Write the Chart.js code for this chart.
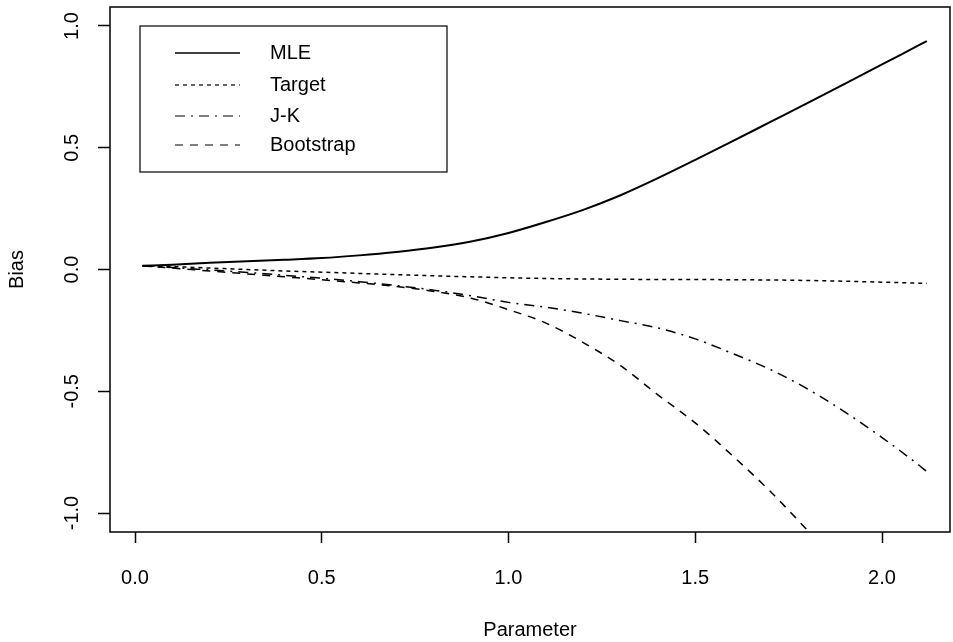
<!DOCTYPE html>
<html>
<head>
<meta charset="utf-8">
<script src="https://cdn.jsdelivr.net/npm/chart.js@4.4.1/dist/chart.umd.min.js"></script>
<style>
  html, body { margin: 0; padding: 0; background: #fff; }
  #wrap { width: 953px; height: 642px; position: relative; }
</style>
</head>
<body>
<div id="wrap"><canvas id="c"></canvas></div>
<script>
// ── Data ──────────────────────────────────────────────────
const params    = [0.02, 0.1, 0.2, 0.3, 0.4, 0.5, 0.6, 0.7, 0.8, 0.9, 1.0, 1.1, 1.2, 1.3, 1.4, 1.5, 1.6, 1.7, 1.8, 1.9, 2.0, 2.1, 2.12];
const mle       = [0.015, 0.020, 0.028, 0.034, 0.040, 0.047, 0.058, 0.072, 0.090, 0.115, 0.150, 0.195, 0.245, 0.305, 0.375, 0.450, 0.527, 0.605, 0.683, 0.762, 0.842, 0.922, 0.938];
const target    = [0.015, 0.012, 0.006, 0.000, -0.006, -0.011, -0.016, -0.021, -0.026, -0.030, -0.034, -0.037, -0.039, -0.040, -0.041, -0.041, -0.042, -0.043, -0.045, -0.048, -0.052, -0.056, -0.057];
const jk        = [0.015, 0.008, -0.002, -0.012, -0.024, -0.036, -0.050, -0.066, -0.085, -0.108, -0.135, -0.155, -0.180, -0.210, -0.240, -0.285, -0.345, -0.410, -0.490, -0.585, -0.690, -0.805, -0.830];
const bootstrap = [0.015, 0.006, -0.006, -0.018, -0.030, -0.042, -0.055, -0.070, -0.090, -0.118, -0.165, -0.220, -0.300, -0.395, -0.515, -0.630, -0.765, -0.910, -1.070];

const xTicks = [0, 0.5, 1.0, 1.5, 2.0];
const yTicks = [-1.0, -0.5, 0.0, 0.5, 1.0];

const seriesNames = ['MLE', 'Target', 'J-K', 'Bootstrap'];

// ── Helpers ───────────────────────────────────────────────
const pts  = ys => ys.map((y, i) => ({ x: params[i], y }));
const FONT = '"Liberation Sans", Arial, sans-serif';

const styles = [
  { width: 2,   dash: [] },
  { width: 1.5, dash: [4, 4] },
  { width: 1.5, dash: [10, 6, 2, 6] },
  { width: 1.5, dash: [8, 7] },
];

// ── Box, y tick labels, legend ────────────────────────────
const frame = {
  id: 'frame',
  afterDraw(chart) {
    const { ctx, chartArea: a } = chart;
    const ys = chart.scales.y;
    ctx.save();
    ctx.strokeStyle = '#000';
    ctx.lineWidth = 1.5;
    ctx.strokeRect(a.left, a.top, a.right - a.left, a.bottom - a.top);

    // y tick labels, parallel to the axis (R style)
    ctx.font = '20px ' + FONT;
    ctx.fillStyle = '#000';
    ctx.textAlign = 'center';
    ctx.textBaseline = 'middle';
    yTicks.forEach(v => {
      ctx.save();
      ctx.translate(72, ys.getPixelForValue(v));
      ctx.rotate(-Math.PI / 2);
      ctx.fillText(v.toFixed(1), 0, 0);
      ctx.restore();
    });

    // legend
    ctx.lineWidth = 1.2;
    ctx.strokeRect(140, 26, 307, 146);
    ctx.textAlign = 'left';
    const rows = [53, 85, 116, 145];
    seriesNames.forEach((name, i) => {
      ctx.beginPath();
      ctx.setLineDash(styles[i].dash);
      ctx.lineWidth = styles[i].width * 0.8;
      ctx.moveTo(175, rows[i]);
      ctx.lineTo(240, rows[i]);
      ctx.stroke();
      ctx.setLineDash([]);
      ctx.fillText(name, 270, rows[i]);
    });
    ctx.restore();
  }
};

// ── Chart ─────────────────────────────────────────────────
const datasets = [mle, target, jk, bootstrap].map((ys, i) => ({
  label: seriesNames[i],
  data: pts(ys),
  borderColor: '#000',
  borderWidth: styles[i].width,
  borderDash: styles[i].dash,
  pointRadius: 0,
  cubicInterpolationMode: 'monotone',
  fill: false,
}));

new Chart(document.getElementById('c'), {
  type: 'line',
  data: { datasets },
  plugins: [frame],
  options: {
    responsive: true,
    maintainAspectRatio: false,
    animation: false,
    layout: { padding: { top: 7, right: 3, left: 0, bottom: 0 } },
    plugins: { legend: { display: false }, tooltip: { enabled: false } },
    scales: {
      x: {
        type: 'linear',
        min: -0.067,
        max: 2.182,
        afterBuildTicks: s => { s.ticks = xTicks.map(v => ({ value: v })); },
        afterFit: s => { s.height = 110; },
        grid: { drawOnChartArea: false, drawTicks: true, tickLength: 11, tickColor: '#000', tickWidth: 1.5 },
        border: { display: false },
        ticks: {
          color: '#000',
          font: { family: FONT, size: 20 },
          padding: 23,
          maxRotation: 0,
          callback: v => Number(v).toFixed(1),
        },
        title: {
          display: true,
          text: 'Parameter',
          color: '#000',
          font: { family: FONT, size: 20 },
          padding: { top: 12, bottom: 0 },
        },
      },
      y: {
        type: 'linear',
        min: -1.078,
        max: 1.078,
        afterBuildTicks: s => { s.ticks = yTicks.map(v => ({ value: v })); },
        afterFit: s => { s.width = 110; },
        grid: { drawOnChartArea: false, drawTicks: true, tickLength: 12, tickColor: '#000', tickWidth: 1.5 },
        border: { display: false },
        ticks: { display: false },
        title: {
          display: true,
          text: 'Bias',
          color: '#000',
          font: { family: FONT, size: 20 },
          padding: { top: 5, bottom: 0 },
        },
      },
    },
  },
});
</script>
</body>
</html>
